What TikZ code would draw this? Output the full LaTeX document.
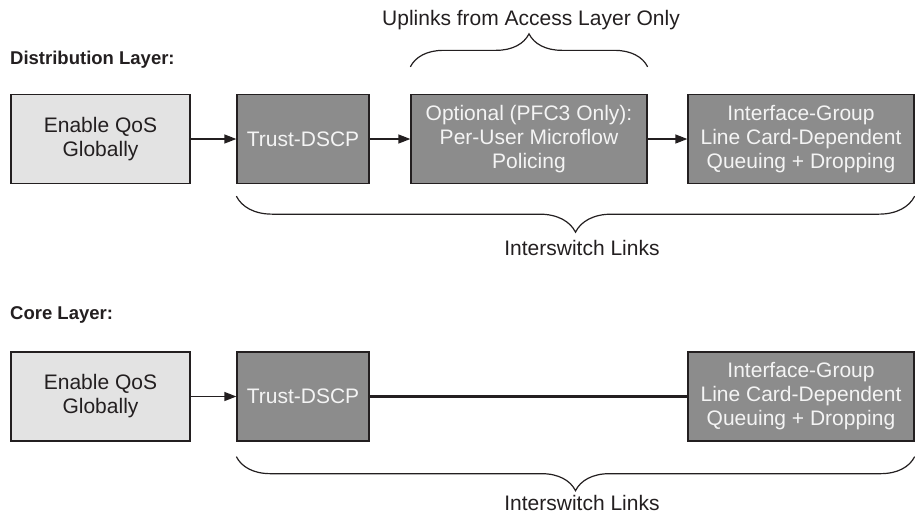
\documentclass[tikz,border=0pt]{standalone}
\usepackage{fontspec}
\setmainfont{Liberation Sans}
\definecolor{ink}{HTML}{231F20}
\definecolor{qoslight}{HTML}{E3E3E3}
\definecolor{qosdark}{HTML}{8C8C8C}
\definecolor{qostext}{HTML}{F4F4F4}
\usetikzlibrary{arrows.meta,calc,decorations.pathreplacing}

\begin{document}
\begin{tikzpicture}[x=1pt,y=-1pt,
  qbox/.style={draw=ink,line width=1.3pt,inner sep=0pt,minimum height=89pt,
    align=center,font=\fontsize{21}{24}\selectfont},
  lightbox/.style={qbox,fill=qoslight,text=ink},
  darkbox/.style={qbox,fill=qosdark,text=qostext},
  layer/.style={font=\fontsize{18.5}{22}\selectfont\bfseries,text=ink,anchor=west,inner sep=0pt},
  note/.style={font=\fontsize{21}{24}\selectfont,text=ink,inner sep=0pt},
  flow/.style={draw=ink,line width=1.3pt,-{Triangle[length=12pt,width=9pt]}},
  bracket/.style={draw=ink,line width=1.2pt,decorate,decoration={brace,amplitude=#1}}
]
  \useasboundingbox (0,0) rectangle (915,515);

  % Distribution layer
  \node[layer] (distlbl) at (10,60) {Distribution Layer:};
  \node[lightbox,minimum width=179pt] (enableD) at (100.5,139) {Enable QoS\\Globally};
  \node[darkbox,minimum width=132pt] (trustD) at (303,139) {Trust-DSCP};
  \node[darkbox,minimum width=236pt] (policeD) at (529,139) {Optional (PFC3 Only):\\Per-User Microflow\\Policing};
  \node[darkbox,minimum width=226pt] (ifaceD) at (801,139) {Interface-Group\\Line Card-Dependent\\Queuing + Dropping};
  \draw[flow] (enableD) -- (trustD);
  \draw[flow] (trustD) -- (policeD);
  \draw[flow] (policeD) -- (ifaceD);
  % Braces
  \draw[bracket=33pt] ([yshift=27pt]policeD.north west) -- ([yshift=27pt]policeD.north east);
  \node[note] (uplinks) at (531,20) {Uplinks from Access Layer Only};
  \draw[bracket=36pt] ([yshift=-12pt]ifaceD.south east) -- ([yshift=-12pt]trustD.south west);
  \node[note] (islD) at (582,248) {Interswitch Links};

  % Core layer
  \node[layer] (corelbl) at (10,315) {Core Layer:};
  \node[lightbox,minimum width=179pt] (enableC) at (100.5,396.5) {Enable QoS\\Globally};
  \node[darkbox,minimum width=132pt] (trustC) at (303,396.5) {Trust-DSCP};
  \node[darkbox,minimum width=226pt] (ifaceC) at (801,396.5) {Interface-Group\\Line Card-Dependent\\Queuing + Dropping};
  \draw[flow] (enableC) -- (trustC);
  \draw[draw=ink,line width=2.3pt] (trustC) -- (ifaceC);
  \draw[bracket=34pt] ([yshift=-15pt]ifaceC.south east) -- ([yshift=-15pt]trustC.south west);
  \node[note] (islC) at (582,503) {Interswitch Links};
\end{tikzpicture}
\end{document}
